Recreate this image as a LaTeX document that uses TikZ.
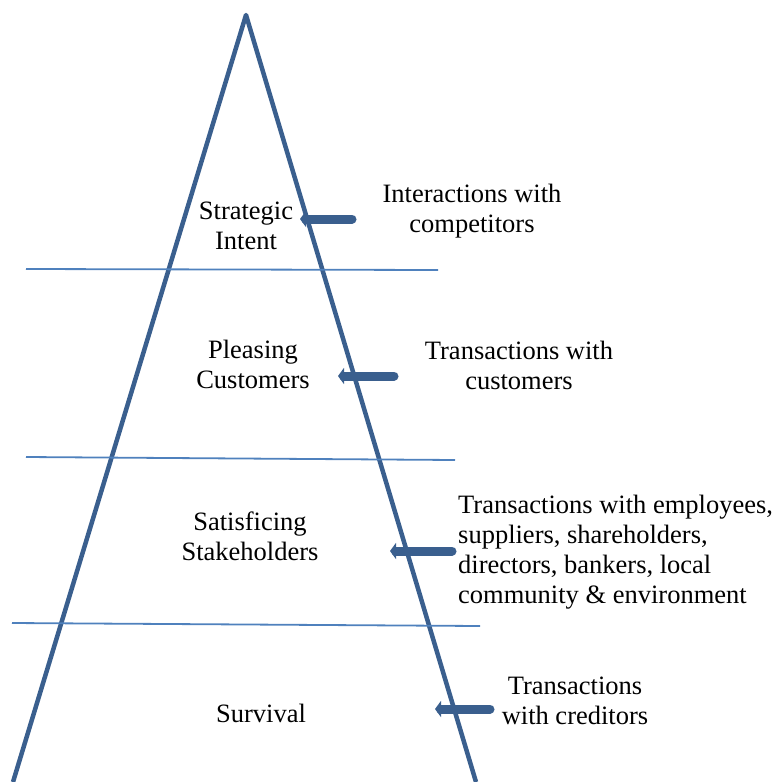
\documentclass[tikz,border=0pt]{standalone}
\usepackage{fontspec}
\setmainfont{Liberation Serif}
\usetikzlibrary{arrows.meta,positioning}
\definecolor{pyrblue}{HTML}{3A5F8E}
\definecolor{layblue}{HTML}{4F81BD}

\begin{document}
\begin{tikzpicture}[x=1pt, y=-1pt, font=\fontsize{26.5}{30}\selectfont,
  lbl/.style={align=center, inner sep=0pt},
  layer/.style={layblue, line width=1.8pt},
  flow/.style={pyrblue, line width=9pt, line cap=round, -{Triangle[length=6pt,width=16pt]}}]
   \useasboundingbox (0,0) rectangle (778,782);

   % Pyramid
   \coordinate (top) at (246,15);
   \coordinate (bl) at (13,782);
   \coordinate (br) at (476,782);
   \draw[pyrblue, line width=4.5pt, line join=round] (bl) -- (top) -- (br);

   % Layer borders
   \coordinate (l1a) at (26,269);  \coordinate (l1b) at (438,270);
   \coordinate (l2a) at (26,457);  \coordinate (l2b) at (455,460);
   \coordinate (l3a) at (12,623);  \coordinate (l3b) at (480,626);
   \draw[layer] (l1a) -- (l1b);
   \draw[layer] (l2a) -- (l2b);
   \draw[layer] (l3a) -- (l3b);

   % Levels
   \node[lbl] (intent) at (246,226) {Strategic\\Intent};
   \node[lbl] (pleasing) at (253,364) {Pleasing\\Customers};
   \node[lbl] (satisf) at (250,536) {Satisficing\\Stakeholders};
   \node[lbl] (survival) at (261,713) {Survival};

   % Relations
   \node[lbl] (compet) at (472,211) {Interactions with\\competitors};
   \node[lbl] (custom) at (519,365) {Transactions with\\customers};
   \node[lbl, align=left, anchor=west] (stake) at (458,552)
      {Transactions with employees,\\suppliers, shareholders,\\directors, bankers, local\\community \& environment};
   \node[lbl] (credit) at (575,701) {Transactions\\with creditors};

   % Arrows
   \coordinate (a1s) at (352,219); \coordinate (a1e) at (300,219);
   \coordinate (a2s) at (394,376); \coordinate (a2e) at (338,376);
   \coordinate (a3s) at (452,551); \coordinate (a3e) at (390,551);
   \coordinate (a4s) at (490,709); \coordinate (a4e) at (435,709);
   \draw[flow] (a1s) -- (a1e);
   \draw[flow] (a2s) -- (a2e);
   \draw[flow] (a3s) -- (a3e);
   \draw[flow] (a4s) -- (a4e);
\end{tikzpicture}
\end{document}
